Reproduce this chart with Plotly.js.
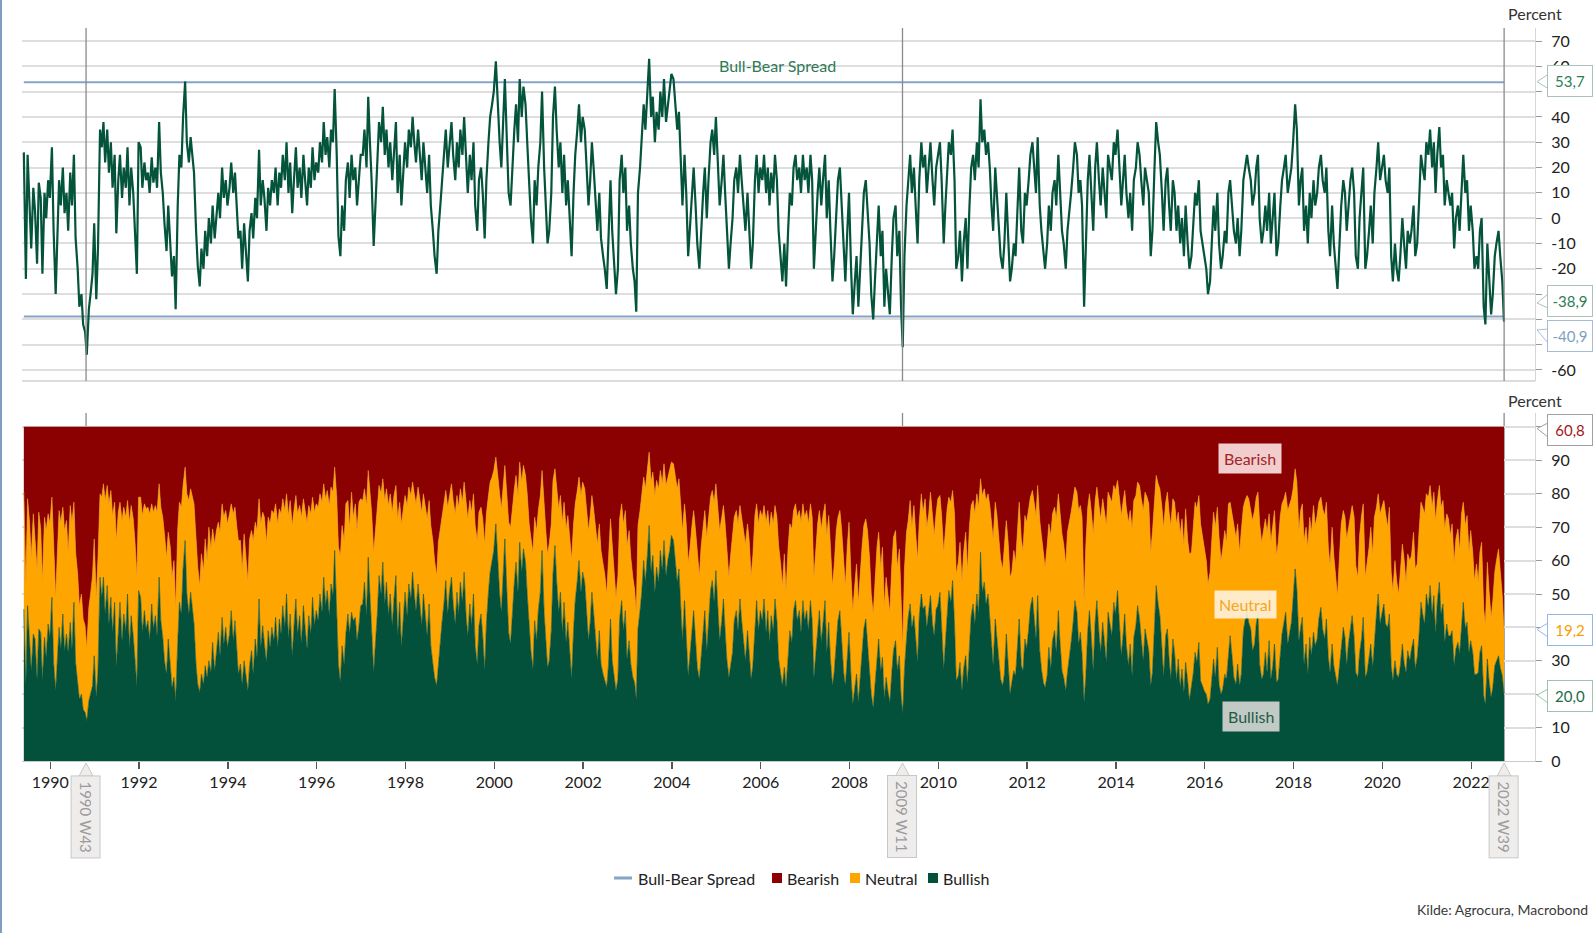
<!DOCTYPE html>
<html>
<head>
<meta charset="utf-8">
<script src="https://cdn.plot.ly/plotly-3.0.1.min.js"></script>
<style>
html,body{margin:0;padding:0;background:#fff;}
#chart{width:1593px;height:933px;}
</style>
</head>
<body>
<div id="chart"></div>
<script>
// ---------------- DATA (semi-monthly readings, first point late May 1989, last point 2022 W39) ----------------
const spread = [
  // 1989 (from late May)
  26,-24,25,5,-12,12,3,-18,14,8,-22,10,0,15,8,
  // 1990
  28,-5,-30,-8,15,5,20,2,10,-5,18,5,25,-8,-20,-35,-30,-42,-45,-54,-36,-30,-22,-2,
  // 1991
  -32,-12,35,28,38,22,35,18,30,12,25,-6,15,25,8,20,12,28,5,20,10,-5,-22,30,
  // 1992
  28,12,22,15,18,10,24,14,20,12,38,18,10,-2,-13,5,-8,-23,-15,-36,5,25,20,40,
  // 1993
  54,30,22,32,25,18,-5,-19,-27,-12,-20,-5,-15,0,-10,5,-8,2,10,0,20,8,15,5,
  // 1994
  12,22,10,18,5,-8,-5,-20,-2,-12,-25,-5,2,-8,8,0,27,5,15,8,-5,12,5,15,
  // 1995
  10,20,5,18,12,25,15,30,10,22,2,15,28,12,20,8,25,15,5,20,12,28,15,22,
  // 1996
  18,30,22,38,25,32,20,35,30,51,25,-7,-15,5,-5,15,22,8,25,15,20,5,18,25,
  // 1997
  25,35,20,48,30,15,-11,5,20,38,30,44,25,35,20,30,15,28,38,10,25,5,20,30,
  // 1998
  20,35,28,40,30,22,35,25,15,30,18,10,25,5,-5,-15,-22,-5,5,15,25,35,20,30,
  // 1999
  38,25,15,30,20,35,25,40,20,10,25,15,30,5,-5,15,20,10,-8,15,30,40,45,50,
  // 2000
  62,45,30,20,40,55,30,10,5,20,35,45,30,55,40,52,45,30,10,0,-10,15,5,20,
  // 2001
  30,50,20,5,-10,-5,10,40,52,35,20,30,10,25,5,15,-5,-15,10,25,35,45,30,40,
  // 2002
  35,20,5,15,30,20,5,-5,10,-8,-15,-20,-28,-10,15,-5,-20,-30,-20,15,25,10,20,-5,
  // 2003
  5,-10,-20,-25,-37,10,20,30,45,35,50,63,40,48,30,42,35,50,40,55,38,45,50,57,
  // 2004
  55,45,35,42,20,5,25,10,-15,-5,10,20,5,-10,-20,-5,10,20,0,15,30,35,25,40,
  // 2005
  20,5,15,25,10,-5,-20,-10,0,15,20,10,25,15,5,-5,10,-2,-20,-10,15,25,10,20,
  // 2006
  15,25,10,20,5,18,10,25,15,-5,-15,-25,-10,-27,-5,10,5,20,25,15,20,10,25,15,
  // 2007
  20,10,25,15,-20,-5,10,20,5,15,25,0,15,-5,-25,-15,5,15,20,5,-15,-25,-5,10,
  // 2008
  -20,-38,-25,-15,-35,-20,-5,10,15,5,-10,-30,-40,-25,-5,5,-15,-5,-35,-20,-30,-38,-15,0,
  // 2009
  5,-15,-5,-35,-51,-15,5,15,25,10,20,5,-10,15,30,20,25,10,20,30,15,5,20,25,
  // 2010
  30,15,-10,5,20,30,25,35,15,-20,-15,-5,-25,-10,0,-20,5,20,25,15,30,20,47,30,
  // 2011
  35,25,30,20,5,-5,20,10,-5,-15,-20,-10,10,-5,-25,-20,-10,-15,5,20,-5,-10,10,5,
  // 2012
  15,25,30,20,10,32,5,-5,-15,-20,-10,5,-5,10,15,5,25,10,-5,-10,-20,-5,5,10,
  // 2013
  20,30,25,10,15,5,-35,-10,15,25,10,-5,20,30,15,5,20,10,0,25,20,15,30,25,
  // 2014
  35,20,5,15,25,10,0,10,-5,15,20,30,25,15,5,20,15,10,-15,-5,20,38,30,25,
  // 2015
  10,-5,15,20,5,-5,15,10,-5,5,-10,0,-15,5,-10,-20,-15,-5,10,5,15,-5,-10,-15,
  // 2016
  -20,-30,-25,-10,5,-5,10,-10,-20,-15,-5,-10,10,15,5,-5,-10,0,-15,-5,15,20,25,20,
  // 2017
  15,5,10,20,25,0,-10,-5,5,-5,10,-10,0,10,-15,-10,5,15,20,25,10,15,20,30,
  // 2018
  45,35,5,15,20,-5,5,-10,10,0,15,5,10,20,25,15,10,20,-5,-15,5,-10,-20,-28,
  // 2019
  -10,5,15,10,-5,5,15,20,10,-15,-20,0,10,20,-20,-15,-5,5,-10,10,20,30,15,20,
  // 2020
  25,15,10,20,-15,-25,-10,-20,-25,-15,0,-10,-20,-5,-10,-5,5,-15,-10,5,25,20,15,30,
  // 2021
  25,35,20,30,10,25,36,20,25,5,15,10,5,10,-12,0,5,-5,15,25,10,15,-5,5,
  // 2022 (to W39)
  -5,-20,-15,-20,-5,0,-35,-42,-10,-25,-38,-30,-15,-10,-5,-15,-25,-40.9
];

const neutral = [
  // 1989
  35,30,32,38,34,36,30,33,35,31,30,36,38,33,34,
  // 1990
  30,36,28,33,35,38,32,36,34,30,35,38,30,33,32,28,30,27,26,22,28,30,33,35,
  // 1991
  30,34,25,30,28,34,30,36,32,35,30,38,34,30,36,32,34,28,38,33,35,37,33,28,
  // 1992
  30,35,32,36,34,38,30,35,33,37,28,34,36,38,35,32,36,33,35,28,34,30,32,25,
  // 1993
  22,30,34,31,33,36,38,35,32,36,34,38,35,40,37,34,38,36,33,37,34,38,35,37,
  // 1994
  36,32,38,34,36,40,37,34,38,35,33,38,36,40,35,38,30,37,34,38,36,34,37,35,
  // 1995
  38,34,37,33,36,32,35,30,37,34,39,35,31,36,33,38,32,35,38,33,36,30,34,32,
  // 1996
  34,30,33,28,32,30,33,29,31,25,33,35,38,36,37,39,34,32,36,31,34,33,37,32,
  // 1997
  31,28,33,26,30,34,36,35,32,27,30,25,31,28,33,30,34,31,27,35,30,37,33,29,
  // 1998
  33,29,31,27,30,32,29,31,34,30,33,35,31,36,37,35,33,36,34,32,30,27,32,29,
  // 1999
  28,31,33,29,32,28,30,27,33,35,31,34,30,36,37,34,32,35,38,33,29,27,25,24,
  // 2000
  20,25,30,31,26,22,29,33,35,32,28,26,29,24,27,25,26,30,32,34,35,31,33,30,
  // 2001
  29,24,31,33,34,35,32,28,23,27,31,29,33,30,34,32,35,36,32,29,27,25,29,27,
  // 2002
  28,31,33,32,29,31,34,35,32,34,33,32,28,33,30,35,32,28,31,30,29,32,30,34,
  // 2003
  33,32,30,28,26,31,30,29,25,28,26,22,27,25,29,26,28,24,26,23,27,25,24,22,
  // 2004
  23,26,28,27,31,33,29,32,34,32,31,30,33,34,31,33,32,30,34,31,28,27,30,26,
  // 2005
  30,33,31,28,32,34,30,33,35,31,30,32,28,31,34,35,32,34,31,33,32,29,32,30,
  // 2006
  31,28,33,30,34,31,32,28,31,34,33,30,34,29,33,32,34,30,29,31,30,33,29,31,
  // 2007
  30,32,29,31,30,33,32,30,34,32,29,35,32,34,30,32,33,31,30,34,32,30,34,33,
  // 2008
  30,28,31,33,30,32,34,31,30,33,32,30,28,31,33,32,31,33,28,30,29,27,32,34,
  // 2009
  33,31,32,26,21,30,32,29,31,30,33,32,31,28,30,29,32,30,28,31,33,30,29,32,
  // 2010
  29,32,35,34,31,28,30,27,33,32,34,36,33,35,37,34,36,33,31,33,30,32,22,29,
  // 2011
  28,31,30,33,36,38,35,37,38,36,35,38,34,37,35,33,36,34,37,35,38,36,37,38,
  // 2012
  36,33,32,34,37,33,39,40,38,36,39,37,40,38,37,40,35,39,41,40,38,42,40,39,
  // 2013
  37,34,36,40,38,41,30,39,37,35,38,41,36,34,38,40,37,39,41,36,38,40,35,37,
  // 2014
  33,38,42,40,37,41,43,40,44,41,39,37,40,42,45,41,43,44,40,42,39,33,36,38,
  // 2015
  42,45,40,41,44,46,42,45,47,44,46,45,44,46,42,44,40,43,45,46,44,47,45,43,
  // 2016
  40,36,38,42,44,45,42,44,40,42,43,41,44,40,43,45,44,42,40,43,37,36,34,37,
  // 2017
  36,39,40,38,36,42,41,43,40,42,38,41,43,40,38,41,42,39,37,36,40,38,37,33,
  // 2018
  30,32,33,35,34,37,35,38,36,37,38,36,37,35,33,36,37,35,33,32,35,33,31,27,
  // 2019
  33,37,35,36,38,35,34,33,36,32,30,35,37,34,30,32,33,35,34,36,32,30,33,32,
  // 2020
  31,33,30,32,28,27,30,28,25,28,30,31,27,29,30,28,32,30,28,31,30,32,33,30,
  // 2021
  33,30,32,31,34,30,29,32,31,34,33,35,30,32,31,33,34,31,33,30,31,32,30,33,
  // 2022
  30,28,33,27,30,31,26,24,29,27,24,26,28,30,32,29,24,19.2
];

// Horizontal reference levels of the Bull-Bear Spread
const spreadLevels = [53.7, -38.9];
// Marked weeks
const markerDates = ['1990-10-22', '2009-03-12', '2022-09-29'];
const markerLabels = ['1990 W43', '2009 W11', '2022 W39'];
// Last-value labels
const lastLabels = {level: '53,7', levelLow: '-38,9', spread: '-40,9', bearish: '60,8', neutral: '19,2', bullish: '20,0'};
const topTicks = [70,60,50,40,30,20,10,0,-10,-20,-30,-40,-50,-60];
const topHidden = [50,-30,-40,-50];          // labels covered by the value callouts
const bottomTicks = [0,10,20,30,40,50,60,70,80,90,100];
const bottomHidden = [100,40,20];

// ---------------- derived series ----------------
const dates = spread.map((_, k) => {
  const s = k + 9; // semi-month index from Jan 1989
  const y = 1989 + Math.floor(s / 24);
  const m = Math.floor((s % 24) / 2) + 1;
  const d = (s % 2) ? 28 : 14;
  return y + '-' + String(m).padStart(2, '0') + '-' + d;
});
const bullish = spread.map((s, i) => (100 + s - neutral[i]) / 2);
const bearish = spread.map((s, i) => (100 - s - neutral[i]) / 2);

// ---------------- geometry helpers (pixels -> paper) ----------------
const L = 22, R = 1535, T = 28, B = 761;
const W = R - L, H = B - T;
const PX = x => (x - L) / W;
const PY = y => (B - y) / H;

const FONT = 'Lato, "Open Sans", "DejaVu Sans", sans-serif';
const GREEN = '#03513a', ORANGE = '#ffa500', RED = '#8b0000', BLUE = '#86a5c6';

const first = dates[0], last = dates[dates.length - 1];

const traces = [
  {x: [first, last, null, first, last], y: [spreadLevels[0], spreadLevels[0], null, spreadLevels[1], spreadLevels[1]],
   type: 'scatter', mode: 'lines', line: {color: BLUE, width: 2}, xaxis: 'x', yaxis: 'y', name: 'Bull-Bear Spread', showlegend: false, hoverinfo: 'skip'},
  {x: dates, y: spread, type: 'scatter', mode: 'lines', line: {color: '#04533b', width: 2.2}, xaxis: 'x', yaxis: 'y', showlegend: false},
  {x: dates, y: bullish, type: 'scatter', mode: 'lines', stackgroup: 'pct', line: {color: GREEN, width: 0.6}, fillcolor: GREEN, xaxis: 'x', yaxis: 'y2', name: 'Bullish', showlegend: false},
  {x: dates, y: neutral, type: 'scatter', mode: 'lines', stackgroup: 'pct', line: {color: '#f2a31a', width: 0.6}, fillcolor: ORANGE, xaxis: 'x', yaxis: 'y2', name: 'Neutral', showlegend: false},
  {x: dates, y: bearish, type: 'scatter', mode: 'lines', stackgroup: 'pct', line: {color: RED, width: 0.6}, fillcolor: RED, xaxis: 'x', yaxis: 'y2', name: 'Bearish', showlegend: false}
];

const shapes = [];
const annotations = [];

// page left border
shapes.push({type: 'line', xref: 'paper', yref: 'paper', x0: PX(1), x1: PX(1), y0: PY(0), y1: PY(933), line: {color: '#7d9dc4', width: 2}});
// bottom border of top panel
shapes.push({type: 'line', xref: 'paper', yref: 'paper', x0: 0, x1: 1, y0: PY(381), y1: PY(381), line: {color: '#dcdcdc', width: 2}, layer: 'below'});

// marker lines + labels
markerDates.forEach((d, i) => {
  shapes.push({type: 'line', xref: 'x', yref: 'paper', x0: d, x1: d, y0: PY(381), y1: 1, line: {color: '#8a8a8a', width: 1.3}, layer: 'above'});
  shapes.push({type: 'line', xref: 'x', yref: 'paper', x0: d, x1: d, y0: 0, y1: PY(413), line: {color: '#8a8a8a', width: 1.3}, layer: 'below'});
  shapes.push({type: 'path', xref: 'x', xsizemode: 'pixel', xanchor: d, yref: 'paper', ysizemode: 'pixel', yanchor: PY(776),
               path: 'M -7,0 L 0,13 L 7,0 Z', fillcolor: '#efecec', line: {color: '#c8c8c8', width: 1}});
  annotations.push({xref: 'x', x: d, yref: 'paper', y: PY(775), yanchor: 'top', xanchor: 'center', text: markerLabels[i], textangle: 90,
                    showarrow: false, font: {family: FONT, size: 15, color: '#9b9b9b'}, bgcolor: '#efecec', bordercolor: '#c8c8c8', borderwidth: 1, borderpad: 5});
});

// right-side value callouts
const callouts = [
  {text: lastLabels.level,    yc: 81.5, tip: 81.7, color: '#2e7d55', border: '#a9c4b6'},
  {text: lastLabels.levelLow, yc: 301,  tip: 303,  color: '#2e7d55', border: '#a9c4b6'},
  {text: lastLabels.spread,   yc: 336,  tip: 330,  color: '#7f9fbf', border: '#a8bcd6'},
  {text: lastLabels.bearish,  yc: 430,  tip: 428.5,color: '#a3171b', border: '#a0a0a0'},
  {text: lastLabels.neutral,  yc: 630,  tip: 629.5,color: '#f5a000', border: '#93b8e6'},
  {text: lastLabels.bullish,  yc: 696,  tip: 695,  color: '#1c6a48', border: '#9fc3ae'}
];
callouts.forEach(c => {
  shapes.push({type: 'path', xref: 'paper', xsizemode: 'pixel', xanchor: PX(1547), yref: 'paper', ysizemode: 'pixel', yanchor: PY(c.yc),
               path: 'M 1,7 L -10,' + (c.yc - c.tip) + ' L 1,-7 Z', fillcolor: '#ffffff', line: {color: c.border, width: 1}});
  annotations.push({xref: 'paper', x: PX(1547), xanchor: 'left', yref: 'paper', y: PY(c.yc), yanchor: 'middle', text: c.text, showarrow: false,
                    width: 36, height: 22, align: 'center', font: {family: FONT, size: 15, color: c.color},
                    bgcolor: '#ffffff', bordercolor: c.border, borderwidth: 1, borderpad: 4});
});

// in-plot labels
const mid = {xanchor: 'center', yanchor: 'middle', showarrow: false, xref: 'paper', yref: 'paper'};
annotations.push(Object.assign({x: PX(777), y: PY(65.5), text: 'Bull-Bear Spread',
                  font: {family: FONT, size: 16, color: '#2f7a57'}}, mid));
annotations.push(Object.assign({x: PX(1249.5), y: PY(458), text: 'Bearish',
                  font: {family: FONT, size: 16, color: '#a5232a'}, bgcolor: 'rgba(250,222,222,0.92)', borderpad: 5}, mid));
annotations.push(Object.assign({x: PX(1245.5), y: PY(604.5), text: 'Neutral',
                  font: {family: FONT, size: 16, color: '#f5a623'}, bgcolor: 'rgba(255,243,222,0.9)', borderpad: 4}, mid));
annotations.push(Object.assign({x: PX(1250.5), y: PY(716), text: 'Bullish',
                  font: {family: FONT, size: 16, color: '#1e5c43'}, bgcolor: 'rgba(210,213,211,0.92)', borderpad: 5}, mid));

// axis unit labels
annotations.push(Object.assign({x: PX(1535), y: PY(14), text: 'Percent', font: {family: FONT, size: 16, color: '#333'}}, mid));
annotations.push(Object.assign({x: PX(1535), y: PY(400), text: 'Percent', font: {family: FONT, size: 16, color: '#333'}}, mid));

// legend (drawn manually for compact spacing)
const LY = 878;
shapes.push({type: 'line', xref: 'paper', yref: 'paper', x0: PX(614), x1: PX(632), y0: PY(LY), y1: PY(LY), line: {color: BLUE, width: 3}});
const legendItems = [
  {sq: null, tx: 636, text: 'Bull-Bear Spread'},
  {sq: 772, color: RED, tx: 785, text: 'Bearish'},
  {sq: 850, color: ORANGE, tx: 863, text: 'Neutral'},
  {sq: 928, color: GREEN, tx: 941, text: 'Bullish'}
];
legendItems.forEach(it => {
  if (it.sq !== null) {
    shapes.push({type: 'rect', xref: 'paper', yref: 'paper', x0: PX(it.sq), x1: PX(it.sq + 10), y0: PY(LY + 5), y1: PY(LY - 5), fillcolor: it.color, line: {width: 0}});
  }
  annotations.push({xref: 'paper', x: PX(it.tx), xanchor: 'left', yref: 'paper', y: PY(LY), yanchor: 'middle', text: it.text, showarrow: false,
                    font: {family: FONT, size: 16, color: '#222'}});
});

// source
annotations.push({xref: 'paper', x: PX(1590), xanchor: 'right', yref: 'paper', y: PY(909), yanchor: 'middle', text: 'Kilde: Agrocura, Macrobond',
                  showarrow: false, font: {family: FONT, size: 14, color: '#3a3a3a'}});

const layout = {
  width: 1593, height: 933,
  margin: {l: L, r: 1593 - R, t: T, b: 933 - B, pad: 0},
  paper_bgcolor: '#ffffff', plot_bgcolor: '#ffffff',
  font: {family: FONT, size: 16, color: '#222'},
  showlegend: false,
  xaxis: {
    type: 'date', range: ['1989-05-13', '2023-06-10'], anchor: 'y2',
    tick0: '1990-01-01', dtick: 'M24', tickformat: '%Y',
    ticks: 'outside', ticklen: 7, tickwidth: 1.3, tickcolor: '#555',
    showgrid: false, zeroline: false, showline: true, linecolor: '#c4cec9', linewidth: 1,
    tickfont: {family: FONT, size: 16, color: '#222'}
  },
  yaxis: {
    domain: [PY(381), 1], range: [-64.35, 75.14], side: 'right', anchor: 'x',
    tickmode: 'array', tickvals: topTicks, ticktext: topTicks.map(v => topHidden.includes(v) ? '' : String(v)),
    showgrid: true, gridcolor: '#dedede', gridwidth: 2, zeroline: false,
    showline: true, linecolor: '#d6d6d6', linewidth: 1,
    ticks: 'outside', ticklen: 6, tickcolor: '#9a9a9a', ticklabelstandoff: 6,
    tickfont: {family: FONT, size: 16, color: '#222'}
  },
  yaxis2: {
    domain: [0, PY(413)], range: [0, 104.19], side: 'right', anchor: 'x',
    tickmode: 'array', tickvals: bottomTicks, ticktext: bottomTicks.map(v => bottomHidden.includes(v) ? '' : String(v)),
    showgrid: true, gridcolor: '#dedede', gridwidth: 2, zeroline: false,
    showline: true, linecolor: '#d6d6d6', linewidth: 1,
    ticks: 'outside', ticklen: 6, tickcolor: '#9a9a9a', ticklabelstandoff: 6,
    tickfont: {family: FONT, size: 16, color: '#222'}
  },
  shapes: shapes,
  annotations: annotations
};

Plotly.newPlot('chart', traces, layout, {displayModeBar: false, staticPlot: true});
</script>
</body>
</html>
